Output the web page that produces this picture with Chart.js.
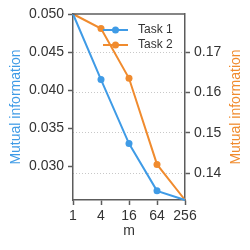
<!DOCTYPE html>
<html lang="en">
<head>
    <meta charset="UTF-8">
    <title>Mutual information vs m</title>
    <script src="https://cdn.jsdelivr.net/npm/chart.js"></script>
    <style>
        body {
            margin: 0;
            padding: 0;
            background-color: #fff;
        }
        .chart-box {
            width: 250px;
            height: 250px;
        }
    </style>
</head>
<body>
    <div class="chart-box">
        <canvas id="miChart" width="250" height="250"></canvas>
    </div>

    <script>
        // data
        const mValues = [1, 4, 16, 64, 256];
        const task1 = [0.0500, 0.0414, 0.0330, 0.0268, 0.0256];
        const task2 = [0.1794, 0.1758, 0.1635, 0.1422, 0.1334];
        const xTicks = [1, 4, 16, 64, 256];
        const leftTicks = [0.030, 0.035, 0.040, 0.045, 0.050];
        const rightTicks = [0.14, 0.15, 0.16, 0.17];
        const seriesNames = ['Task 1', 'Task 2'];
        const yTitle = 'Mutual information';

        const blue = '#3f9be6';
        const orange = '#f08b2e';
        const axisColor = '#5c5c5c';
        const font = "'Liberation Sans', Arial, sans-serif";

        // no markers on the end points
        const radii = [0, 3.5, 3.5, 3.5, 0];

        const toPoints = arr => mValues.map((m, i) => ({ x: m, y: arr[i] }));

        // legend inside the plot (top right), top frame line, and both
        // y titles reading bottom-to-top
        const extras = {
            id: 'extras',
            afterDatasetsDraw(chart) {
                const ctx = chart.ctx;
                const area = chart.chartArea;
                ctx.save();
                ctx.strokeStyle = axisColor;
                ctx.lineWidth = 1.5;
                ctx.beginPath();
                ctx.moveTo(area.left, area.top);
                ctx.lineTo(area.right, area.top);
                ctx.stroke();

                chart.data.datasets.forEach((ds, i) => {
                    const y = area.top + 16 + i * 15;
                    const x0 = area.left + 30;
                    ctx.strokeStyle = ds.borderColor;
                    ctx.lineWidth = 2;
                    ctx.beginPath();
                    ctx.moveTo(x0, y);
                    ctx.lineTo(x0 + 25, y);
                    ctx.stroke();
                    ctx.fillStyle = ds.borderColor;
                    ctx.beginPath();
                    ctx.arc(x0 + 12.5, y, 3.5, 0, Math.PI * 2);
                    ctx.fill();
                    ctx.fillStyle = '#333';
                    ctx.font = '12px ' + font;
                    ctx.textBaseline = 'middle';
                    ctx.textAlign = 'left';
                    ctx.fillText(ds.label, x0 + 35, y);
                });

                const midY = (area.top + area.bottom) / 2;
                ctx.font = '14px ' + font;
                ctx.textAlign = 'center';
                ctx.textBaseline = 'alphabetic';
                [[20, blue], [240, orange]].forEach(([bx, col]) => {
                    ctx.save();
                    ctx.translate(bx, midY);
                    ctx.rotate(-Math.PI / 2);
                    ctx.fillStyle = col;
                    ctx.fillText(yTitle, 0, 0);
                    ctx.restore();
                });
                ctx.restore();
            }
        };

        const ctx = document.getElementById('miChart').getContext('2d');
        const miChart = new Chart(ctx, {
            type: 'line',
            data: {
                datasets: [{
                    label: seriesNames[0],
                    data: toPoints(task1),
                    yAxisID: 'y',
                    borderColor: blue,
                    backgroundColor: blue,
                    borderWidth: 2,
                    pointRadius: radii,
                    pointBorderWidth: 0,
                    clip: false
                }, {
                    label: seriesNames[1],
                    data: toPoints(task2),
                    yAxisID: 'y2',
                    borderColor: orange,
                    backgroundColor: orange,
                    borderWidth: 2,
                    pointRadius: radii,
                    pointBorderWidth: 0,
                    clip: false
                }]
            },
            options: {
                responsive: false,
                animation: false,
                layout: { padding: { top: 14, left: 0, right: 0, bottom: 0 } },
                plugins: {
                    legend: { display: false },
                    tooltip: { enabled: false }
                },
                scales: {
                    x: {
                        type: 'logarithmic',
                        min: 1,
                        max: 256,
                        afterBuildTicks: axis => { axis.ticks = xTicks.map(v => ({ value: v })); },
                        afterFit: axis => { axis.height = 50; },
                        ticks: {
                            color: '#333',
                            font: { family: font, size: 14 },
                            padding: 3,
                            maxRotation: 0,
                            autoSkip: false,
                            callback: v => String(v)
                        },
                        grid: {
                            drawOnChartArea: false,
                            tickLength: 5,
                            tickColor: axisColor,
                            tickWidth: 1.5
                        },
                        border: { color: axisColor, width: 1.5 },
                        title: {
                            display: true,
                            text: 'm',
                            color: '#333',
                            font: { family: font, size: 14 },
                            padding: { top: 0, bottom: 10 }
                        }
                    },
                    y: {
                        position: 'left',
                        min: 0.0256,
                        max: 0.050,
                        afterBuildTicks: axis => { axis.ticks = leftTicks.map(v => ({ value: v })); },
                        afterFit: axis => { axis.width = 73; },
                        ticks: {
                            color: '#333',
                            font: { family: font, size: 14 },
                            padding: 4,
                            callback: v => v.toFixed(3)
                        },
                        grid: {
                            drawOnChartArea: false,
                            tickLength: 5,
                            tickColor: axisColor,
                            tickWidth: 1.5
                        },
                        border: { color: axisColor, width: 1.5 }
                    },
                    y2: {
                        position: 'right',
                        min: 0.1334,
                        max: 0.1794,
                        afterBuildTicks: axis => { axis.ticks = rightTicks.map(v => ({ value: v })); },
                        afterFit: axis => { axis.width = 65; },
                        ticks: {
                            color: '#333',
                            font: { family: font, size: 14 },
                            padding: 4,
                            callback: v => v.toFixed(2)
                        },
                        grid: {
                            drawOnChartArea: true,
                            color: '#c8c8c8',
                            lineWidth: 1,
                            tickLength: 5,
                            tickColor: axisColor,
                            tickWidth: 1.5
                        },
                        border: { color: axisColor, width: 1.5, dash: [1, 2] }
                    }
                }
            },
            plugins: [extras]
        });
    </script>
</body>
</html>
